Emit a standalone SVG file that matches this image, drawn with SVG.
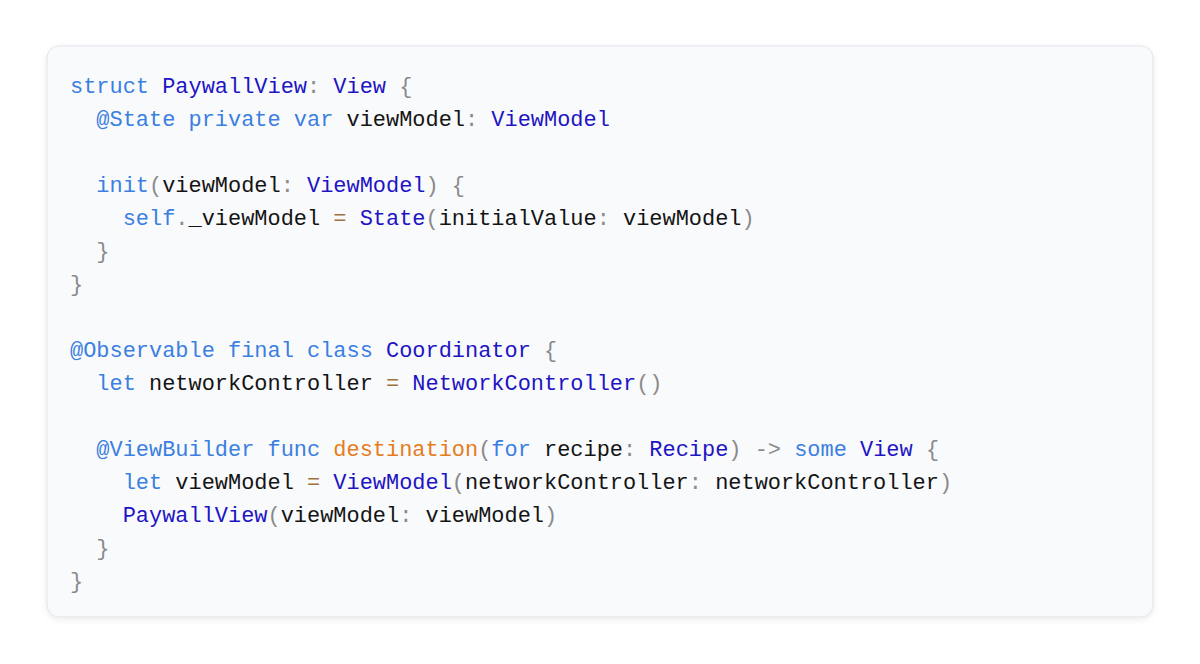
<svg xmlns="http://www.w3.org/2000/svg" width="1200" height="664" viewBox="0 0 1200 664">
<defs>
<filter id="sh" x="-5%" y="-5%" width="110%" height="115%"><feDropShadow dx="0" dy="2" stdDeviation="3" flood-color="#000" flood-opacity="0.08"/></filter>
</defs>
<style>
text{font-family:"Liberation Mono","DejaVu Sans Mono",monospace;font-size:21.95px;fill:#141414;white-space:pre}
.k{fill:#3b7fe0}.t{fill:#1e14c4}.p{fill:#8a8a8a}.o{fill:#a0713c}.f{fill:#e57d1c}
</style>
<rect width="1200" height="664" fill="#ffffff"/>
<g id="codeblock">
<rect x="47" y="46" width="1106" height="571" rx="12" fill="#f9fafc" stroke="#e1e3e8" filter="url(#sh)"/>
<text xml:space="preserve" x="70" y="93"><tspan class="k">struct</tspan> <tspan class="t">PaywallView</tspan><tspan class="p">:</tspan> <tspan class="t">View</tspan> <tspan class="p">{</tspan></text>
<text xml:space="preserve" x="70" y="126">  <tspan class="k">@State</tspan> <tspan class="k">private</tspan> <tspan class="k">var</tspan> viewModel<tspan class="p">:</tspan> <tspan class="t">ViewModel</tspan></text>
<text xml:space="preserve" x="70" y="192">  <tspan class="k">init</tspan><tspan class="p">(</tspan>viewModel<tspan class="p">:</tspan> <tspan class="t">ViewModel</tspan><tspan class="p">)</tspan> <tspan class="p">{</tspan></text>
<text xml:space="preserve" x="70" y="225">    <tspan class="k">self</tspan><tspan class="p">.</tspan>_viewModel <tspan class="o">=</tspan> <tspan class="t">State</tspan><tspan class="p">(</tspan>initialValue<tspan class="p">:</tspan> viewModel<tspan class="p">)</tspan></text>
<text xml:space="preserve" x="70" y="258">  <tspan class="p">}</tspan></text>
<text xml:space="preserve" x="70" y="291"><tspan class="p">}</tspan></text>
<text xml:space="preserve" x="70" y="357"><tspan class="k">@Observable</tspan> <tspan class="k">final</tspan> <tspan class="k">class</tspan> <tspan class="t">Coordinator</tspan> <tspan class="p">{</tspan></text>
<text xml:space="preserve" x="70" y="390">  <tspan class="k">let</tspan> networkController <tspan class="o">=</tspan> <tspan class="t">NetworkController</tspan><tspan class="p">()</tspan></text>
<text xml:space="preserve" x="70" y="456">  <tspan class="k">@ViewBuilder</tspan> <tspan class="k">func</tspan> <tspan class="f">destination</tspan><tspan class="p">(</tspan><tspan class="k">for</tspan> recipe<tspan class="p">:</tspan> <tspan class="t">Recipe</tspan><tspan class="p">)</tspan> <tspan class="p">-&gt;</tspan> <tspan class="k">some</tspan> <tspan class="t">View</tspan> <tspan class="p">{</tspan></text>
<text xml:space="preserve" x="70" y="489">    <tspan class="k">let</tspan> viewModel <tspan class="o">=</tspan> <tspan class="t">ViewModel</tspan><tspan class="p">(</tspan>networkController<tspan class="p">:</tspan> networkController<tspan class="p">)</tspan></text>
<text xml:space="preserve" x="70" y="522">    <tspan class="t">PaywallView</tspan><tspan class="p">(</tspan>viewModel<tspan class="p">:</tspan> viewModel<tspan class="p">)</tspan></text>
<text xml:space="preserve" x="70" y="555">  <tspan class="p">}</tspan></text>
<text xml:space="preserve" x="70" y="588"><tspan class="p">}</tspan></text>
</g>
</svg>
